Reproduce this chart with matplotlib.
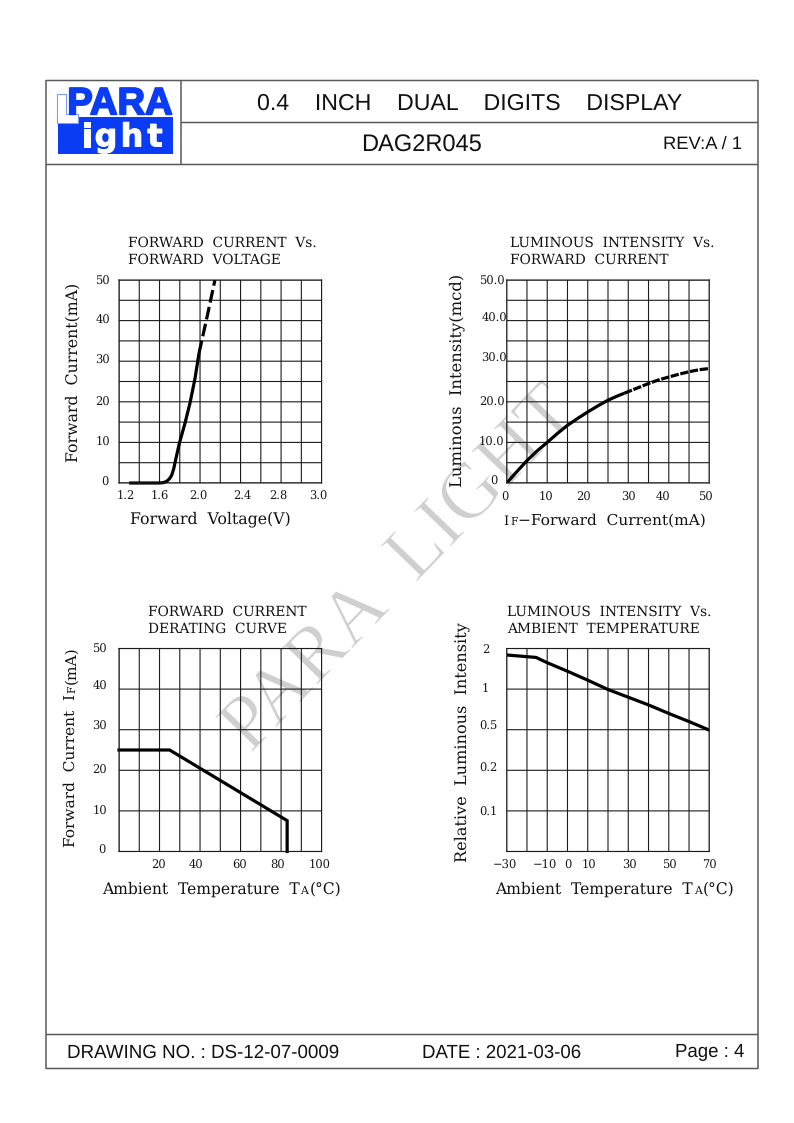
import matplotlib
matplotlib.use("Agg")
import matplotlib.pyplot as plt
import matplotlib.patheffects as pe
import numpy as np
from matplotlib.patches import Polygon, Rectangle

plt.rcParams["text.hinting"] = "no_hinting"

W, H = 794, 1123
SANS = "Liberation Sans"
SERIF = "DejaVu Serif"
GRID = "#1c1c1c"
FRAME = "#5a5a5a"
INK = "#111111"

# forward current vs forward voltage
vf_solid_x = [1.30, 1.60, 1.64, 1.67, 1.70, 1.72, 1.74, 1.76, 1.795, 1.85, 1.90, 1.95, 1.99]
vf_solid_y = [0.0, 0.0, 0.1, 0.4, 1.1, 1.9, 3.5, 5.8, 9.7, 14.6, 19.6, 25.7, 32.0]
vf_dash_x = [1.99, 2.07, 2.147]
vf_dash_y = [32.0, 41.0, 50.0]
vf_xlabels = ["1.2", "1.6", "2.0", "2.4", "2.8", "3.0"]
vf_ylabels = ["50", "40", "30", "20", "10", "0"]

# luminous intensity vs forward current
iv_solid_x = [0, 2.5, 5, 7.5, 10, 12.5, 15, 17.5, 20, 22.5, 25, 27.5, 29]
iv_solid_y = [0, 2.8, 5.5, 7.9, 10.0, 12.2, 14.2, 15.9, 17.5, 19.0, 20.4, 21.5, 22.1]
iv_dash_x = [29, 32.5, 35, 37.5, 40, 42.5, 45, 47.5, 50]
iv_dash_y = [22.1, 23.5, 24.5, 25.4, 26.1, 26.8, 27.4, 27.9, 28.2]
iv_xlabels = ["0", "10", "20", "30", "40", "50"]
iv_ylabels = ["50.0", "40.0", "30.0", "20.0", "10.0", "0"]

# derating curve
der_x = [0, 25, 83, 83]
der_y = [25, 25, 7.6, 0]
der_xlabels = ["20", "40", "60", "80", "100"]
der_ylabels = ["50", "40", "30", "20", "10", "0"]

# relative intensity vs ambient temperature (y in grid rows, labels are not linear)
rel_x = [-30, -15.5, -10, 0, 10, 20, 30, 40, 50, 60, 70]
rel_y = [4.84, 4.78, 4.65, 4.44, 4.22, 3.99, 3.80, 3.61, 3.40, 3.20, 2.99]
rel_xlabels = ["\u221230", "\u221210", "0", "10", "30", "50", "70"]
rel_ylabels = ["2", "1", "0.5", "0.2", "0.1"]

fig = plt.figure(figsize=(W / 100, H / 100), dpi=100, facecolor="white")
renderer = fig.canvas.get_renderer()

# whole page in pixel coordinates, for the frame and the hand placed labels
page = fig.add_axes([0, 0, 1, 1])
page.set_xlim(0, W)
page.set_ylim(H, 0)
page.axis("off")


def hline(y, x0, x1):
    page.plot([x0, x1], [y, y], color=FRAME, lw=1.1, solid_capstyle="butt", snap=False)


def vline(x, y0, y1):
    page.plot([x, x], [y0, y1], color=FRAME, lw=1.1, solid_capstyle="butt", snap=False)


# frame
hline(80.5, 46, 758)
hline(1068.5, 46, 758)
vline(46, 80, 1069)
vline(758, 80, 1069)
hline(164.5, 46, 758)
hline(122.5, 181, 758)
vline(181, 80, 165)
hline(1034.5, 46, 758)

# header and footer
page.text(470, 103.5, "0.4    INCH    DUAL    DIGITS    DISPLAY", family=SANS, fontsize=16.7,
          ha="center", va="center", color=INK)
page.text(421, 145.5, "DAG2R045", family=SANS, fontsize=17.0, ha="center", va="center", color=INK)
page.text(702.5, 144, "REV:A / 1", family=SANS, fontsize=13.2, ha="center", va="center", color=INK)
page.text(67, 1052.5, "DRAWING NO. : DS-12-07-0009", family=SANS, fontsize=13.5, va="center", color=INK)
page.text(422, 1052.5, "DATE : 2021-03-06", family=SANS, fontsize=13.4, va="center", color=INK)
page.text(675, 1052.5, "Page : 4", family=SANS, fontsize=13.4, va="center", color=INK)

# logo
BLUE = "#0a3cf5"
page.add_patch(Rectangle((57.5, 116.5), 115.5, 37, fc=BLUE, ec="none"))
page.text(120, 114.3, "PARA", family=SANS, weight="bold", fontsize=27.5, color=BLUE, ha="center", va="baseline",
          path_effects=[pe.withStroke(linewidth=1.3, foreground=BLUE)])
page.add_patch(Polygon([(56.5, 93.5), (66, 93.5), (66, 114), (78, 114), (78, 122.5), (56.5, 122.5)],
                       fc="white", ec="#7f9af5", lw=0.8, zorder=1))
for letter, pos in zip("ight", [87, 106, 132, 155]):
    page.text(pos, 146.5, letter, family="DejaVu Sans", weight="bold", fontsize=23, color="white",
              ha="center", va="baseline", zorder=3,
              path_effects=[pe.withStroke(linewidth=0.7, foreground="white")])

# watermark
page.text(401, 571, "PARA  LIGHT", family="Liberation Serif", fontsize=56.7, color="#cfcfcf",
          rotation=46, rotation_mode="anchor", ha="center", va="center", zorder=0,
          path_effects=[pe.Stroke(linewidth=0.9, foreground="white")])


def chart(left, top, xlim, ylim, xstep, ystep):
    ax = fig.add_axes([left / W, 1 - (top + 203) / H, 202.6 / W, 203 / H])
    ax.patch.set_alpha(0)
    ax.set_xlim(*xlim)
    ax.set_ylim(*ylim)
    ax.set_xticks(np.linspace(xlim[0], xlim[1], xstep + 1))
    ax.set_yticks(np.linspace(ylim[0], ylim[1], ystep + 1))
    ax.tick_params(length=0, labelbottom=False, labelleft=False)
    ax.grid(True, color=GRID, lw=0.8)
    for line in ax.get_xgridlines() + ax.get_ygridlines():
        line.set_snap(False)
    for spine in ax.spines.values():
        spine.set_color(GRID)
        spine.set_linewidth(0.8)
        spine.set_snap(False)
    return ax


def labels(xpos, ypos, xtexts, ytexts, xrow, ycols):
    for x, t in zip(xpos, xtexts):
        page.text(x, xrow + 1.5, t, family=SERIF, fontsize=8.3, ha="center", va="center", color=INK)
    for y, t, col in zip(ypos, ytexts, ycols):
        page.text(col, y + 1.5, t, family=SERIF, fontsize=8.3, ha="right", va="center", color=INK)


def mixed(cx, cy, runs, size, rotation=0):
    # runs of text on one baseline, the small cap letters (IF, TA) get a smaller size
    items = []
    total = 0
    for text, scale in runs:
        t = page.text(0, 0, text, family=SERIF, fontsize=size * scale, rotation=rotation,
                      rotation_mode="anchor", ha="left", va="baseline", color=INK)
        box = t.get_window_extent(renderer)
        length = box.height if rotation else box.width
        items.append((t, length))
        total += length + 1
    pos = (cy + total / 2) if rotation else (cx - total / 2)
    for t, length in items:
        if rotation:
            t.set_position((cx + 4, pos))
            pos -= length + 1
        else:
            t.set_position((pos, cy + 5))
            pos += length + 1


def titles(x, y, line1, line2):
    page.text(x, y + 1, line1, family=SERIF, fontsize=9.9, va="center", color=INK)
    page.text(x, y + 18, line2, family=SERIF, fontsize=9.9, va="center", color=INK)


LW = 2.3

ax1 = chart(119, 280, (1.2, 3.2), (0, 50), 10, 10)
ax1.plot(vf_solid_x, vf_solid_y, color="black", lw=LW, solid_capstyle="butt", clip_on=False)
ax1.plot(vf_dash_x, vf_dash_y, color="black", lw=LW, linestyle=(0, (4, 1.4)))
labels([126, 160, 198, 242, 278, 318], [280, 319, 359, 401, 441, 481], vf_xlabels, vf_ylabels, 495,
       [110, 110, 110, 110, 110, 109])
titles(128, 242, "FORWARD  CURRENT  Vs.", "FORWARD  VOLTAGE")
mixed(211, 518, [("Forward  Voltage(V)", 1)], 11.3)
mixed(74, 372, [("Forward  Current(mA)", 1)], 11.3, rotation=90)

ax2 = chart(506.7, 280, (0, 50), (0, 50), 10, 10)
ax2.plot(iv_solid_x, iv_solid_y, color="black", lw=LW, solid_capstyle="butt")
ax2.plot(iv_dash_x, iv_dash_y, color="black", lw=LW, linestyle=(0, (2.6, 0.5)))
labels([505, 546, 584, 628, 663, 705], [280, 317, 357, 401, 441, 480], iv_xlabels, iv_ylabels, 496,
       [505, 507, 507, 505, 504, 498])
titles(510, 242, "LUMINOUS  INTENSITY  Vs.", "FORWARD  CURRENT")
mixed(605.5, 520, [("I", 0.85), ("F", 0.7), ("\u2212Forward  Current(mA)", 1)], 11.1)
mixed(457, 380, [("Luminous  Intensity(mcd)", 1)], 11.8, rotation=90)

ax3 = chart(119, 648.5, (0, 100), (0, 50), 10, 5)
ax3.plot(der_x, der_y, color="black", lw=LW, solid_joinstyle="miter", clip_on=False)
labels([159, 196, 240, 278, 320], [648, 685, 725, 769, 810, 849], der_xlabels, der_ylabels, 864,
       [107, 107, 107, 107, 107, 106])
titles(148, 611, "FORWARD  CURRENT", "DERATING  CURVE")
mixed(222, 889, [("Ambient  Temperature  T", 1), ("A", 0.7), ("(\u00b0C)", 1)], 11.2)
mixed(71, 746, [("Forward  Current  I", 1), ("F", 0.7), ("(mA)", 1)], 11.1, rotation=90)

ax4 = chart(506.7, 648.5, (-30, 70), (0, 5), 10, 5)
ax4.plot(rel_x, rel_y, color="black", lw=LW, solid_joinstyle="miter")
labels([505, 545, 568, 589, 629, 669, 709], [648, 687, 725, 767, 811], rel_xlabels, rel_ylabels, 864,
       [490, 489, 498, 498, 498])
titles(507, 611, "LUMINOUS  INTENSITY  Vs.", "AMBIENT  TEMPERATURE")
mixed(615, 889, [("Ambient  Temperature  T", 1), ("A", 0.7), ("(\u00b0C)", 1)], 11.2)
mixed(462, 742, [("Relative  Luminous  Intensity", 1)], 11.6, rotation=90)

fig.savefig("out.png", dpi=100)
